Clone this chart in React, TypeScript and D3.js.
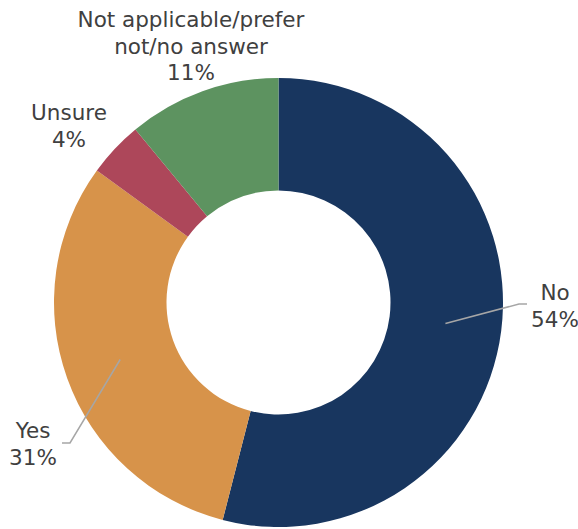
import React from "react";
import * as d3 from "d3";

const categories = ["No", "Yes", "Unsure", "Not applicable/prefer not/no answer"];
const values = [54, 31, 4, 11];
const colors = ["#18365F", "#D7934A", "#AD475A", "#5D9360"];
const labelLines = [["No", "54%"], ["Yes", "31%"], ["Unsure", "4%"], ["Not applicable/prefer", "not/no answer", "11%"]];

const W = 578, H = 529;
const cx = 278.5, cy = 302.5;
const outerR = 224.5, innerR = 112;

// label layout: text center x, first baseline y, optional leader elbow/end
const labelPos: { x: number; y: number; leader?: [number, number, number, number] }[] = [
  { x: 555, y: 300, leader: [519, 304, 527, 304] },
  { x: 33, y: 438, leader: [70, 443, 62, 443] },
  { x: 69, y: 120 },
  { x: 191, y: 27 },
];

export default function App() {
  const pie = d3.pie<number>().sort(null).value((d) => d);
  const arcs = pie(values);
  const arc = d3.arc<d3.PieArcDatum<number>>().innerRadius(innerR).outerRadius(outerR);
  const mid = d3.arc<d3.PieArcDatum<number>>().innerRadius((innerR + outerR) / 2).outerRadius((innerR + outerR) / 2);
  const lineH = 26.5;
  return (
    <svg width={W} height={H} style={{ position: "absolute", left: 0, top: 0 }}>
      <rect width={W} height={H} fill="#fff" />
      <g transform={`translate(${cx},${cy})`}>
        {arcs.map((a, i) => (
          <path key={i} d={arc(a) || ""} fill={colors[i]} />
        ))}
      </g>
      {arcs.map((a, i) => {
        const lp = labelPos[i];
        if (!lp.leader) return null;
        const [c0, c1] = mid.centroid(a);
        const [ex, ey, tx, ty] = lp.leader;
        return (
          <polyline
            key={"l" + i}
            points={`${cx + c0},${cy + c1} ${ex},${ey} ${tx},${ty}`}
            fill="none"
            stroke="#A6A6A6"
            strokeWidth={1.5}
          />
        );
      })}
      {labelLines.map((lines, i) => (
        <text
          key={"t" + i}
          textAnchor="middle"
          fontFamily="'DejaVu Sans', sans-serif"
          fontSize={21.5}
          fill="#404040"
        >
          {lines.map((ln, j) => (
            <tspan key={j} x={labelPos[i].x} y={labelPos[i].y + j * lineH}>
              {ln}
            </tspan>
          ))}
        </text>
      ))}
    </svg>
  );
}
